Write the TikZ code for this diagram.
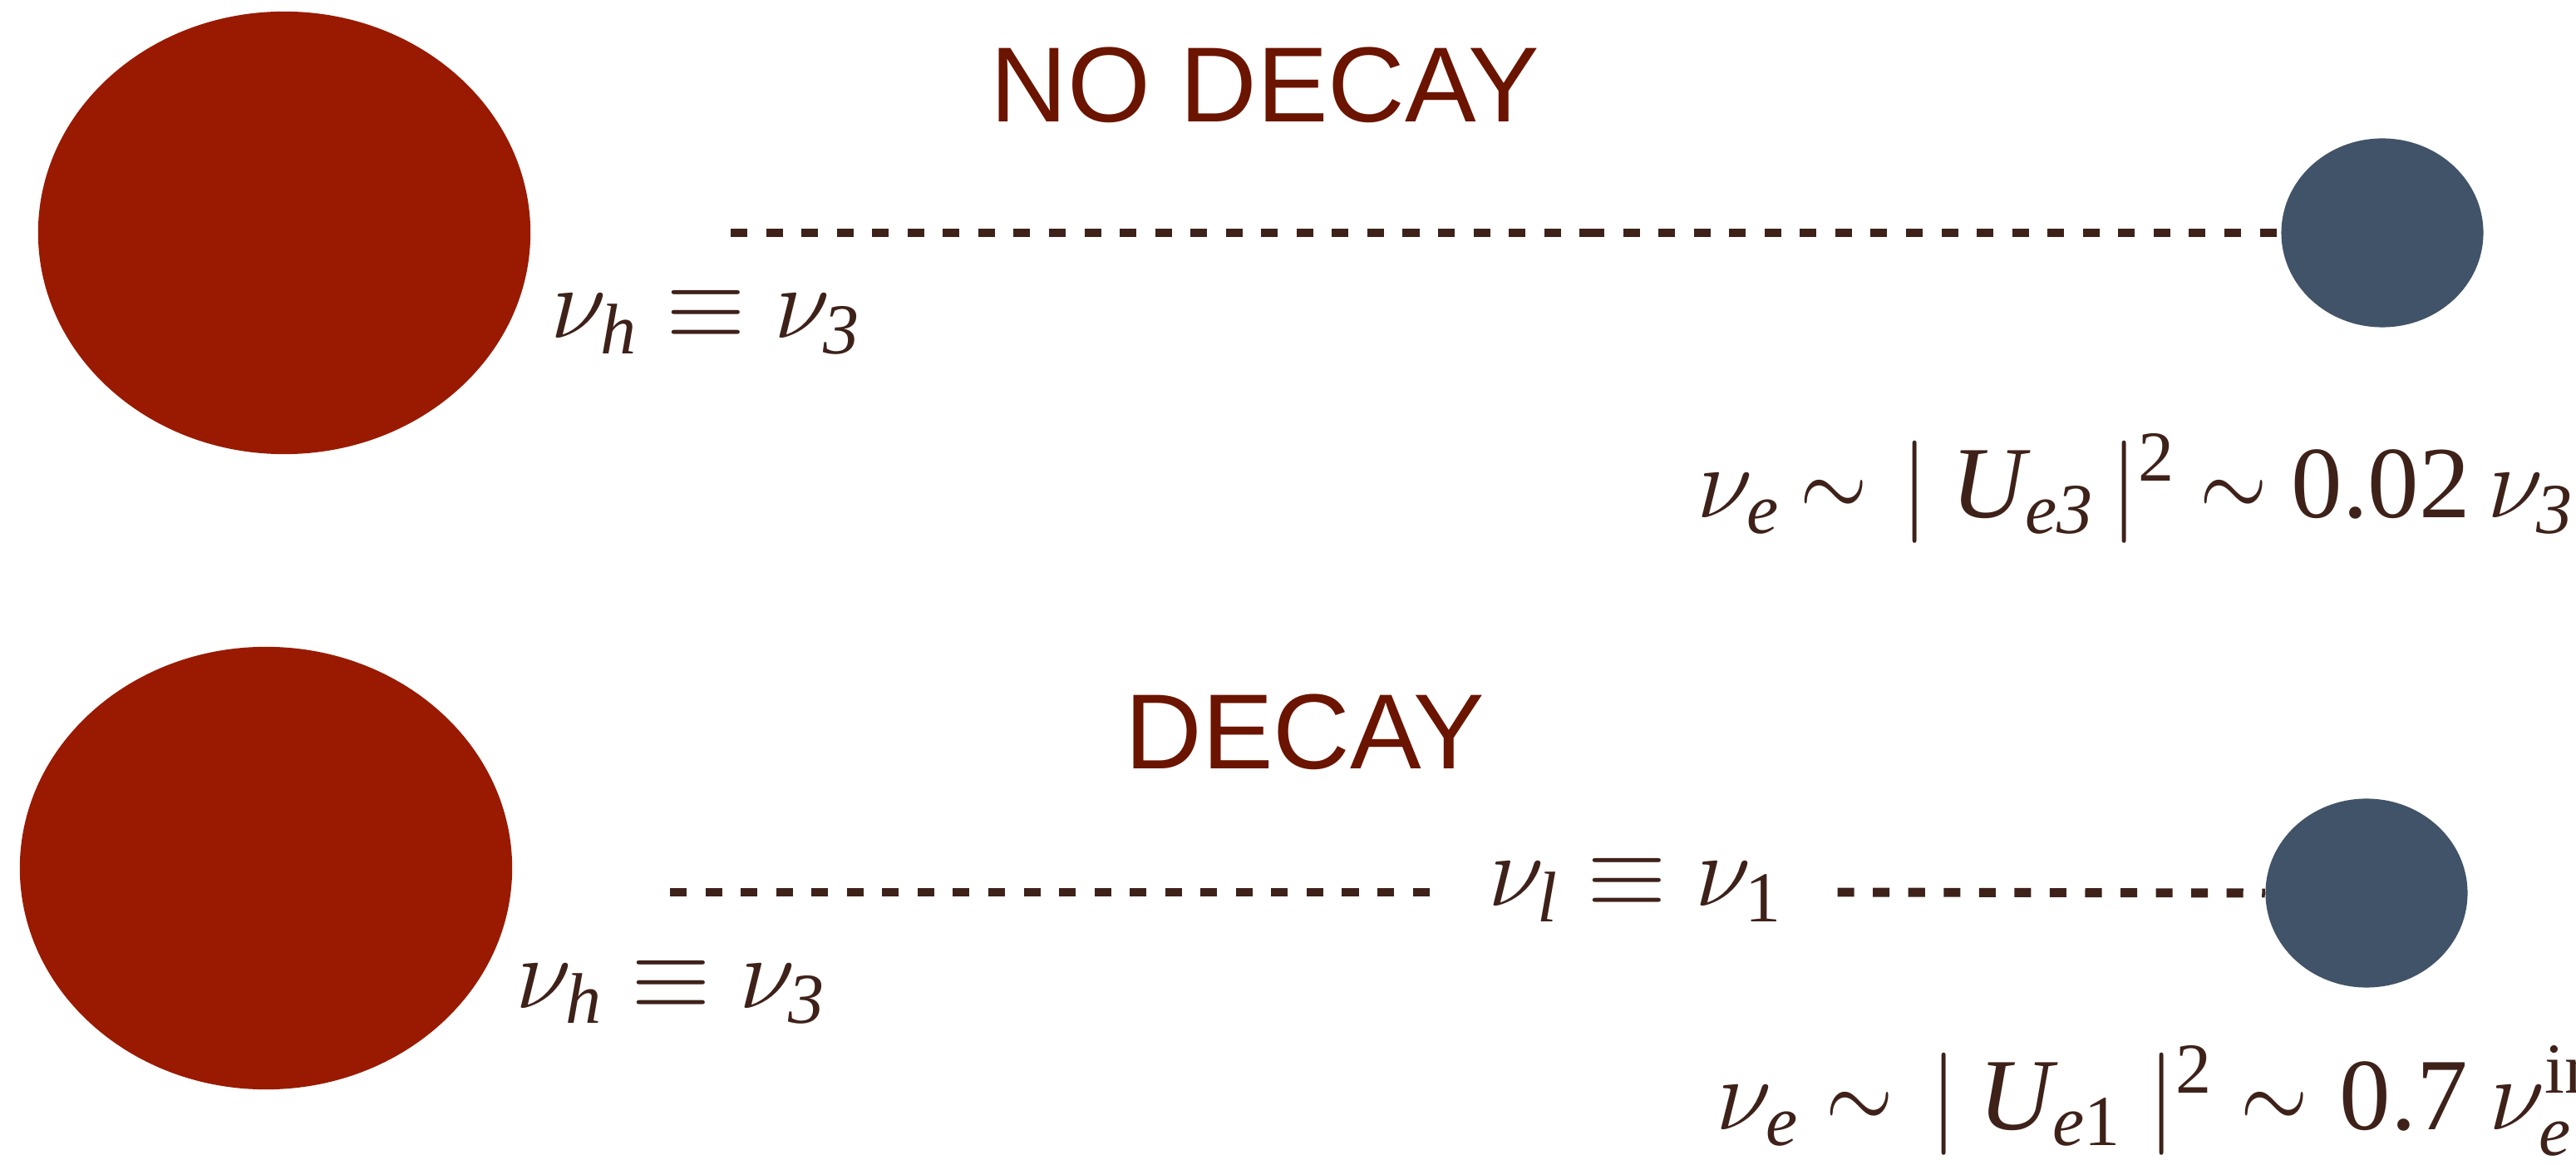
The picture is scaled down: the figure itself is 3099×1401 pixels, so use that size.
\RequirePackage{fix-cm}
\documentclass[tikz,border=0pt]{standalone}
\usepackage{amsmath}
\usepackage{graphicx}
\usepackage{fontspec}
\newfontfamily\tnr{Liberation Serif}
\newfontfamily\hlv{Liberation Sans}
\usetikzlibrary{shapes.geometric}
\definecolor{blobred}{RGB}{153,26,0}
\definecolor{titlered}{RGB}{107,20,0}
\definecolor{slateblue}{RGB}{65,83,104}
\definecolor{inkbrown}{RGB}{62,34,26}
\newcommand\tmi[1]{\text{\tnr\itshape #1}}
\newcommand\tmr[1]{\text{\tnr #1}}
\newcommand\gap[1]{\hspace{#1pt}}
\newcommand\tsim{\mathord{\scalebox{0.85}[1]{$\sim$}}}

\begin{document}
\begin{tikzpicture}[x=0.01cm, y=-0.01cm,
    blob/.style={ellipse, fill=blobred, inner sep=0pt, minimum width=5.92cm, minimum height=5.32cm},
    dot/.style={ellipse, fill=slateblue, inner sep=0pt, minimum width=2.43cm, minimum height=2.27cm},
    dashline/.style={draw=inkbrown, line width=3.1pt, dash pattern=on 5.7pt off 6.4pt},
    title/.style={text=titlered, font=\hlv\fontsize{36.5}{40}\selectfont, inner sep=0pt, anchor=base},
    formula/.style={text=inkbrown, font=\fontsize{35}{40}\selectfont, inner sep=0pt, anchor=base west}]
    \useasboundingbox (0,0) rectangle (3099,1401);

    % No decay
    \node[blob] (redtop) at (342,280) {};
    \node[dot] (bluetop) at (2866,280) {};
    \node[title] (nodecay) at (1522,147) {NO DECAY};
    \node[formula] (heavytop) at (662,407)
        {$\nu_{\tmi{h}}\equiv\nu_{\tmi{3}}$};
    \node[formula] (fluxtop) at (2041,623)
        {$\nu_{\tmi{e}}\gap{6.8}\tsim\gap{11.4}|\gap{7.5}\tmi{U}_{\tmi{e3}}\gap{5.5}|^{\tmr{2}}\gap{8.2}\tsim\gap{8.2}\tmr{0.02}\gap{5.7}\nu_{\tmi{3}}$};
    \coordinate (topstart) at (879,280);
    \coordinate (topjoin) at (1910,280);
    \draw[dashline] (topstart) -- (topjoin);
    \draw[dashline] (topjoin) -- (bluetop.west);

    % Decay
    \node[blob] (redbot) at (320,1044) {};
    \node[dot] (bluebot) at (2847,1074) {};
    \node[title] (decay) at (1570,925) {DECAY};
    \node[formula] (heavybot) at (620,1212)
        {$\nu_{\tmi{h}}\equiv\nu_{\tmi{3}}$};
    \node[formula, anchor=base, inner xsep=0.66cm] (light) at (1967,1090)
        {$\nu_{\tmi{l}}\equiv\nu_{\tmr{1}}$};
    \node[formula] (fluxbot) at (2064,1359)
        {$\nu_{\tmi{e}}\gap{9.1}\tsim\gap{12.5}|\gap{7}\tmi{U}_{\tmi{e}\tmr{1}}\gap{8.8}|^{\tmr{2}}\gap{9.5}\tsim\gap{10.7}\tmr{0.7}\gap{7.4}\nu_{\tmi{e}}^{\tmr{in}}$};
    \coordinate (botstart) at (806,1073);
    \draw[dashline] (botstart) -- (light.west |- botstart);
    \draw[dashline] (light.east |- botstart) -- (bluebot.west);
\end{tikzpicture}
\end{document}
